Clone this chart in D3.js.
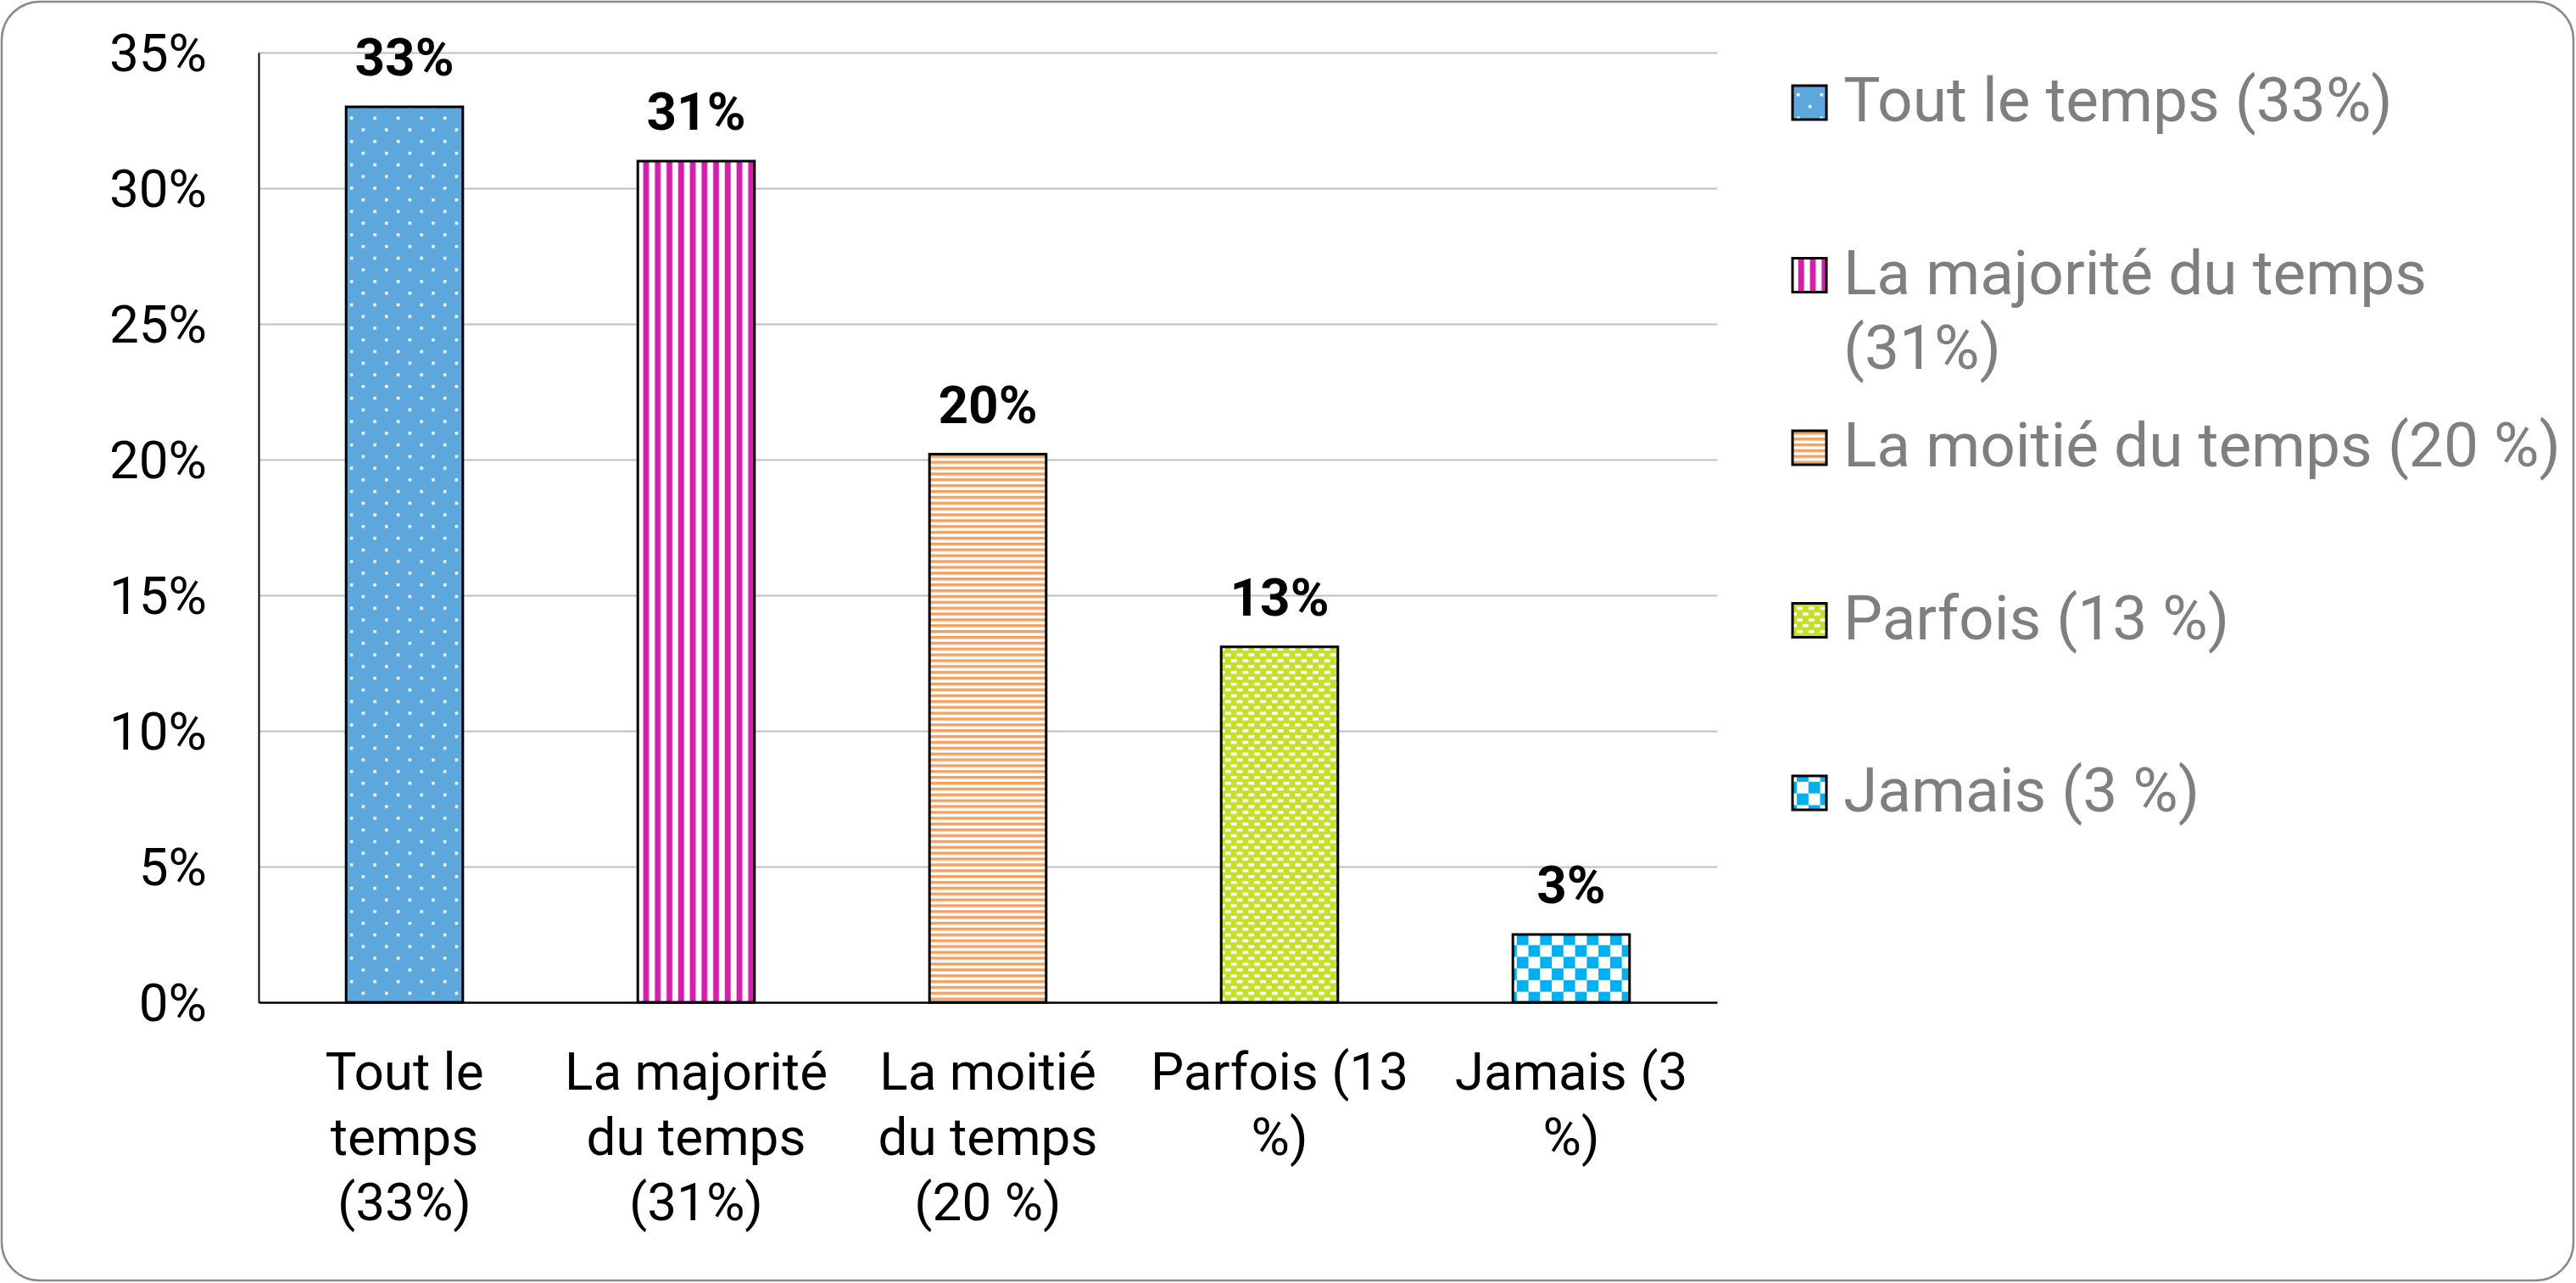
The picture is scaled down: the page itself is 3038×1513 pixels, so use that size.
<!DOCTYPE html>
<html>
<head>
<meta charset="utf-8">
<script src="https://cdn.jsdelivr.net/npm/d3@7"></script>
<style>
  html, body { margin: 0; padding: 0; background: #fff; }
  svg { display: block; font-family: Roboto, "Noto Sans", sans-serif; }
</style>
</head>
<body>
<script>
// ---- data ----
const categories = ["Tout le temps (33%)", "La majorité du temps (31%)", "La moitié du temps (20 %)", "Parfois (13 %)", "Jamais (3 %)"];
const categoryLines = [
  ["Tout le", "temps", "(33%)"],
  ["La majorité", "du temps", "(31%)"],
  ["La moitié", "du temps", "(20 %)"],
  ["Parfois (13", "%)"],
  ["Jamais (3", "%)"]
];
const values = [33, 31, 20.2, 13.1, 2.5];
const valueLabels = ["33%", "31%", "20%", "13%", "3%"];
const legendLines = [
  ["Tout le temps (33%)"],
  ["La majorité du temps", "(31%)"],
  ["La moitié du temps (20 %)"],
  ["Parfois (13 %)"],
  ["Jamais (3 %)"]
];
const yTicks = [0, 5, 10, 15, 20, 25, 30, 35];
const patternIds = ["p-dots", "p-vstripe", "p-hstripe", "p-brick", "p-check"];

// ---- layout ----
const W = 3038, H = 1513;
const plot = { left: 305, right: 2025, top: 62, bottom: 1182 };

const svg = d3.select("body").append("svg").attr("width", W).attr("height", H);

// patterns
const u = 3.44;
const defs = svg.append("defs");
function pat(id, w, h) {
  return defs.append("pattern").attr("id", id).attr("patternUnits", "userSpaceOnUse")
    .attr("width", w).attr("height", h);
}
// 1: blue with white dots
let p = pat("p-dots", 8 * u, 8 * u);
p.append("rect").attr("width", 8 * u).attr("height", 8 * u).attr("fill", "#5ea7dd");
p.append("rect").attr("x", 0).attr("y", 0).attr("width", u).attr("height", u).attr("fill", "#fff");
p.append("rect").attr("x", 4 * u).attr("y", 4 * u).attr("width", u).attr("height", u).attr("fill", "#fff");
// 2: magenta vertical stripes
p = pat("p-vstripe", 4 * u, 10);
p.append("rect").attr("width", 4 * u).attr("height", 10).attr("fill", "#fff");
p.append("rect").attr("x", u * 0.5).attr("width", 2 * u).attr("height", 10).attr("fill", "#d51eac");
// 3: orange horizontal stripes
p = pat("p-hstripe", 10, 2 * u);
p.append("rect").attr("width", 10).attr("height", 2 * u).attr("fill", "#fff");
p.append("rect").attr("y", 0).attr("width", 10).attr("height", u).attr("fill", "#f4a060");
// 4: lime with white bricks
p = pat("p-brick", 4 * u, 4 * u);
p.append("rect").attr("width", 4 * u).attr("height", 4 * u).attr("fill", "#c4e02b");
p.append("rect").attr("x", 0).attr("y", 0).attr("width", 2 * u).attr("height", u).attr("fill", "#fff");
p.append("rect").attr("x", 2 * u).attr("y", 2 * u).attr("width", 2 * u).attr("height", u).attr("fill", "#fff");
// 5: checkerboard
p = pat("p-check", 8 * u, 8 * u);
p.append("rect").attr("width", 8 * u).attr("height", 8 * u).attr("fill", "#fff");
p.append("rect").attr("x", 0).attr("y", 0).attr("width", 4 * u).attr("height", 4 * u).attr("fill", "#00b0f0");
p.append("rect").attr("x", 4 * u).attr("y", 4 * u).attr("width", 4 * u).attr("height", 4 * u).attr("fill", "#00b0f0");

// outer border
svg.append("rect").attr("x", 2).attr("y", 2).attr("width", W - 5).attr("height", H - 5)
  .attr("rx", 45).attr("ry", 45).attr("fill", "#fff").attr("stroke", "#8a8a8a").attr("stroke-width", 2.5);

// scales
const x = d3.scaleBand().domain(categories).range([plot.left, plot.right]).paddingInner(0.6).paddingOuter(0.3);
const y = d3.scaleLinear().domain([0, 35]).range([plot.bottom, plot.top]);

// gridlines
svg.append("g").attr("transform", `translate(${plot.left},0)`)
  .call(d3.axisLeft(y).tickValues(yTicks.filter(d => d > 0)).tickSize(-(plot.right - plot.left)).tickFormat(""))
  .call(g => g.select(".domain").remove())
  .call(g => g.selectAll(".tick line").attr("stroke", "#c0c0c0").attr("stroke-width", 2));

// bars
svg.append("g").selectAll("rect").data(values).join("rect")
  .attr("x", (d, i) => x(categories[i]))
  .attr("y", d => y(d))
  .attr("width", x.bandwidth())
  .attr("height", d => y(0) - y(d))
  .attr("fill", (d, i) => `url(#${patternIds[i]})`)
  .attr("stroke", "#000").attr("stroke-width", 3);

// value labels
svg.append("g").selectAll("text").data(values).join("text")
  .attr("x", (d, i) => x(categories[i]) + x.bandwidth() / 2)
  .attr("y", d => y(d) - 37)
  .attr("text-anchor", "middle")
  .attr("font-size", 62).attr("font-weight", "bold").attr("fill", "#000")
  .text((d, i) => valueLabels[i]);

// y axis
svg.append("g").attr("transform", `translate(${plot.left},0)`)
  .call(d3.axisLeft(y).tickValues(yTicks).tickSizeInner(0).tickSizeOuter(0).tickPadding(61).tickFormat(d => d + "%"))
  .call(g => g.select(".domain").attr("stroke", "#000").attr("stroke-width", 2))
  .call(g => g.selectAll(".tick text").attr("font-size", 62).attr("fill", "#000")
    .attr("font-family", "Roboto, 'Noto Sans', sans-serif").attr("dy", "0.35em"));

// x axis
const xg = svg.append("g").attr("transform", `translate(0,${plot.bottom})`)
  .call(d3.axisBottom(x).tickSizeInner(0).tickSizeOuter(0).tickFormat(""))
  .call(g => g.select(".domain").attr("stroke", "#000").attr("stroke-width", 2.5));
xg.selectAll(".tick").each(function (d, i) {
  const t = d3.select(this).append("text")
    .attr("text-anchor", "middle").attr("font-size", 62).attr("fill", "#000")
    .attr("font-family", "Roboto, 'Noto Sans', sans-serif");
  categoryLines[i].forEach((line, k) => {
    t.append("tspan").attr("x", 0).attr("y", 103 + k * 77).text(line);
  });
});

// legend
const legendY = d3.scalePoint().domain(categories).range([121, 935]);
const lg = svg.append("g");
categories.forEach((c, i) => {
  const cy = legendY(c);
  lg.append("rect").attr("x", 2114).attr("y", cy - 20).attr("width", 40).attr("height", 40)
    .attr("fill", `url(#${patternIds[i]})`).attr("stroke", "#000").attr("stroke-width", 3);
  const t = lg.append("text").attr("font-size", 73).attr("fill", "#7f7f7f");
  legendLines[i].forEach((line, k) => {
    t.append("tspan").attr("x", 2174).attr("y", cy + 22 + k * 88).text(line);
  });
});
</script>
</body>
</html>
